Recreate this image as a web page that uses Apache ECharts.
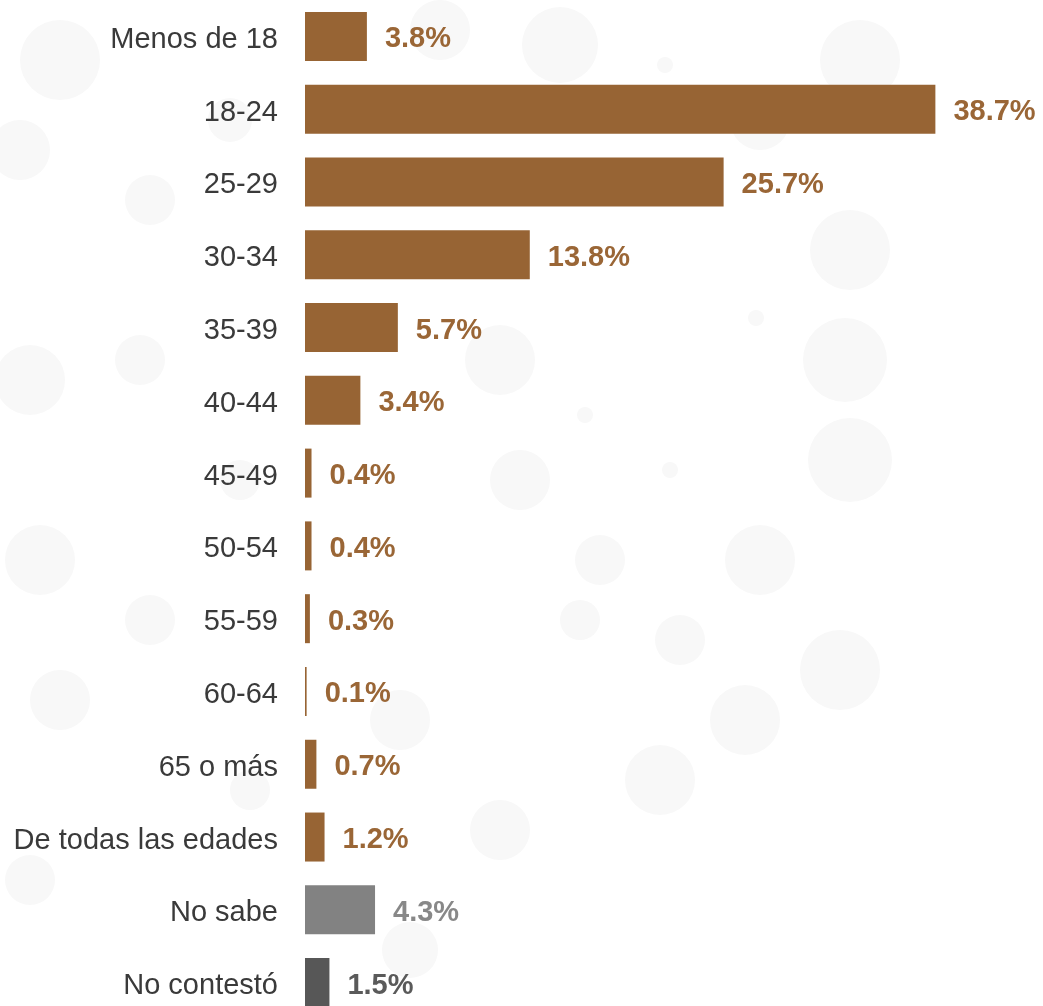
<!DOCTYPE html>
<html>
<head>
<meta charset="utf-8">
<script src="https://cdn.jsdelivr.net/npm/echarts@6/dist/echarts.min.js"></script>
<style>
  html, body { margin: 0; padding: 0; background: #fff; }
  #chart { width: 1043px; height: 1006px; }
</style>
</head>
<body>
<div id="chart"></div>
<script>
// age groups, top to bottom
const categories = [
  'Menos de 18', '18-24', '25-29', '30-34', '35-39', '40-44', '45-49',
  '50-54', '55-59', '60-64', '65 o más', 'De todas las edades', 'No sabe', 'No contestó'
];
const values = [3.8, 38.7, 25.7, 13.8, 5.7, 3.4, 0.4, 0.4, 0.3, 0.1, 0.7, 1.2, 4.3, 1.5];

const brown = '#976434';
const barColors = [
  brown, brown, brown, brown, brown, brown, brown,
  brown, brown, brown, brown, brown, '#828282', '#575757'
];
const labelColors = [
  '#9a6636', '#9a6636', '#9a6636', '#9a6636', '#9a6636', '#9a6636', '#9a6636',
  '#9a6636', '#9a6636', '#9a6636', '#9a6636', '#9a6636', '#888888', '#5a5a5a'
];

// faint decorative dots in the background [x, y, r]
const dots = [
  [560, 45, 38], [665, 65, 8], [440, 30, 30], [760, 120, 30], [860, 60, 40],
  [20, 150, 30], [60, 60, 40], [150, 200, 25], [30, 380, 35], [140, 360, 25],
  [230, 120, 22], [585, 415, 8], [670, 470, 8], [756, 318, 8], [850, 250, 40],
  [845, 360, 42], [850, 460, 42], [500, 360, 35], [520, 480, 30], [600, 560, 25],
  [760, 560, 35], [840, 670, 40], [745, 720, 35], [660, 780, 35], [500, 830, 30],
  [400, 720, 30], [580, 620, 20], [680, 640, 25], [40, 560, 35], [60, 700, 30],
  [150, 620, 25], [240, 480, 20], [30, 880, 25], [410, 950, 28], [250, 790, 20]
];

const font = '"Liberation Sans", Arial, Helvetica, sans-serif';

const chart = echarts.init(document.getElementById('chart'));

const option = {
  animation: false,
  graphic: {
    elements: dots.map(d => ({
      type: 'circle',
      shape: { cx: d[0], cy: d[1], r: d[2] },
      style: { fill: '#f8f8f8' },
      z: -10,
      silent: true
    }))
  },
  grid: {
    left: 305,
    top: 0,
    width: 733,
    height: 1019,
    outerBoundsMode: 'none',
    containLabel: false
  },
  xAxis: {
    type: 'value',
    min: 0,
    max: 45,
    show: false
  },
  yAxis: {
    type: 'category',
    inverse: true,
    data: categories,
    axisLine: { show: false },
    axisTick: { show: false },
    axisLabel: {
      margin: 27,
      fontSize: 29,
      color: '#3a3a3a',
      fontFamily: font,
      // nudge the names a few px below the bar centre, like the original
      verticalAlign: 'top',
      lineHeight: 7
    }
  },
  series: [
    {
      type: 'bar',
      barWidth: 49,
      data: values.map((v, i) => ({
        value: v,
        itemStyle: { color: barColors[i] },
        label: { color: labelColors[i] }
      })),
      label: {
        show: true,
        position: 'right',
        distance: 18,
        offset: [0, 3],
        fontSize: 29,
        fontWeight: 'bold',
        fontFamily: font,
        formatter: p => p.value.toFixed(1) + '%'
      }
    }
  ]
};

chart.setOption(option);
</script>
</body>
</html>
